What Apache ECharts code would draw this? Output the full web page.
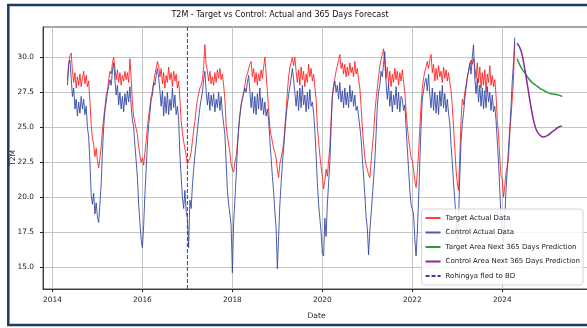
<!DOCTYPE html>
<html><head><meta charset="utf-8">
<script src="https://cdn.jsdelivr.net/npm/echarts@6/dist/echarts.min.js"></script>
<style>html,body{margin:0;padding:0;background:#fff;overflow:hidden}#c{width:587px;height:328px}</style>
</head><body><div id="c"></div>
<script>
// Values every ~10 days (36 steps per year).
// 2014 starts at step 12 (early May); 2024 ends at step 10 (mid April).
const target2014 = [28.4,29.6,30.1,30.3,29.0,28.2,28.9,27.8,28.6,28.0,28.8,27.9,28.5,29.0,28.1,28.7,27.9,28.3,26.8,25.2,24.2,23.8,22.9,23.5];
const control2014 = [28.0,29.5,29.8,28.5,27.2,27.8,26.3,27.0,25.8,26.8,26.0,27.2,26.3,27.0,25.9,26.5,25.0,24.3,22.5,20.2,19.5,20.3,18.8,19.6];
const target2015 = [22.6,22.1,22.8,23.6,24.8,25.7,26.4,27.3,27.6,28.4,29.0,28.8,29.6,30.0,29.2,28.4,29.1,28.2,28.9,28.0,28.7,28.3,29.0,28.4,28.9,28.2,29.9,28.5,26.8,25.8,25.3,24.9,24.5,23.6,23.0,22.5];
const control2015 = [18.6,18.2,19.5,21.0,23.2,25.0,26.2,26.8,27.5,27.9,28.4,28.0,29.0,29.6,28.4,27.3,28.0,26.6,27.5,26.3,27.2,26.1,27.4,26.6,27.6,26.8,27.9,26.5,25.5,25.0,23.7,22.6,21.4,19.5,18.2,17.0];
const target2016 = [22.8,22.3,23.2,24.0,25.0,25.8,26.5,27.2,27.6,28.2,28.8,29.2,29.7,29.4,28.6,29.2,28.1,28.9,27.8,28.7,28.2,29.3,28.4,28.9,27.9,29.0,28.3,28.8,27.8,28.3,27.0,25.5,24.6,24.0,23.5,23.0];
const control2016 = [16.4,18.0,20.2,22.0,23.8,25.2,26.0,27.0,27.3,28.2,28.0,28.7,29.2,28.5,27.6,26.5,27.6,25.8,27.2,26.0,27.5,25.9,27.0,26.2,27.8,26.4,27.3,25.9,26.5,25.6,23.0,21.5,20.0,19.2,20.5,19.0];
const target2017 = [22.4,22.3,22.8,23.2,24.0,24.8,25.4,26.3,27.0,27.4,27.8,28.0,28.4,29.3,30.9,29.5,29.0,28.3,29.0,28.1,28.6,28.0,28.9,28.2,29.1,28.5,29.2,28.4,28.8,28.0,27.0,25.2,24.3,23.8,23.2,22.4];
const control2017 = [18.5,16.4,19.8,19.2,20.8,22.0,23.0,23.8,24.8,25.6,26.4,27.0,27.5,28.4,29.0,27.6,26.6,27.5,26.2,27.3,26.5,27.4,26.1,27.0,26.4,27.5,26.2,27.2,26.0,26.0,24.5,22.5,20.5,19.5,18.8,18.0];
const target2018 = [22.0,21.8,22.5,22.9,23.8,24.8,25.9,26.6,27.1,27.5,28.0,28.6,28.8,29.2,29.5,29.7,28.6,29.2,28.2,28.9,28.0,28.8,28.3,29.1,28.5,29.3,30.0,28.8,27.6,26.2,25.0,24.4,24.0,23.5,23.2,22.8];
const control2018 = [14.6,18.2,19.8,21.5,23.5,25.0,25.8,26.6,27.0,27.4,27.8,27.5,28.2,28.7,27.6,26.4,27.5,26.0,27.2,25.9,27.4,26.3,27.8,26.2,27.1,25.9,26.8,25.8,26.3,25.5,24.1,22.8,21.5,20.4,19.0,17.8];
const target2019 = [22.0,21.4,22.4,22.8,23.3,23.8,25.0,26.2,27.5,28.6,29.3,29.6,30.0,29.4,30.0,29.0,28.2,29.1,28.0,29.3,28.4,29.0,27.9,28.8,28.2,29.5,28.6,29.2,28.3,28.8,27.9,27.0,25.0,24.0,23.0,22.2];
const control2019 = [14.9,17.2,19.5,21.0,22.4,23.5,24.7,25.8,26.6,27.3,27.9,28.5,29.2,28.4,27.5,26.5,27.6,26.2,27.8,26.4,28.0,26.6,27.3,26.1,27.5,26.3,27.7,26.5,26.8,26.0,24.8,23.0,21.0,19.5,18.5,17.5];
const target2020 = [21.5,20.6,21.2,22.0,21.5,22.6,23.7,25.5,27.3,28.0,28.5,29.0,29.4,29.8,30.2,29.2,29.6,28.8,29.5,28.6,29.3,28.7,29.6,28.9,29.3,28.6,29.7,28.8,29.2,28.4,27.8,26.5,25.0,23.8,22.8,22.3];
const control2020 = [16.0,15.8,18.5,17.2,19.5,21.0,22.5,25.0,27.2,27.8,28.3,27.5,28.0,27.0,28.2,26.8,27.6,26.4,27.8,26.6,27.5,26.4,28.0,26.8,27.6,26.5,27.3,26.2,26.5,25.8,25.0,24.2,22.8,21.5,20.2,18.6];
const target2021 = [22.0,21.6,21.4,22.5,23.6,24.5,26.0,27.0,27.8,28.6,29.4,29.8,30.2,30.6,29.5,28.5,29.3,28.1,29.0,27.9,28.8,28.2,29.2,28.4,29.0,28.0,28.9,28.3,29.1,28.2,27.5,26.2,25.0,24.2,23.5,22.8];
const control2021 = [17.8,15.9,17.6,18.8,20.0,21.3,22.6,24.5,26.5,27.5,28.0,29.0,28.6,29.5,30.4,28.2,27.0,28.1,26.5,27.6,26.1,27.3,26.6,27.9,26.3,27.5,26.1,27.2,27.0,26.2,26.6,25.0,23.5,22.0,20.5,19.5];
const target2022 = [22.6,22.0,21.2,20.7,21.8,23.2,24.9,26.6,27.8,28.5,29.0,29.3,29.7,29.2,29.8,30.2,28.9,29.5,28.3,29.2,28.4,29.4,28.6,29.0,28.2,29.3,28.5,29.1,28.3,28.9,28.2,27.6,26.5,25.0,23.5,22.0];
const control2022 = [19.5,18.8,17.0,15.8,17.5,19.8,22.5,25.0,27.0,27.6,28.2,28.5,27.6,28.8,27.3,26.4,27.8,26.2,27.5,26.0,27.3,25.9,27.6,26.5,28.0,26.4,27.4,26.1,27.0,26.0,25.3,23.7,22.5,21.0,19.8,18.5];
const target2023 = [21.0,20.5,23.0,25.5,27.0,26.6,27.5,28.0,28.6,29.0,29.4,29.8,29.5,29.9,29.3,28.5,29.6,28.2,29.3,27.8,28.9,28.0,29.1,27.5,28.8,28.2,29.4,28.0,28.7,27.9,28.4,27.3,25.5,24.5,22.8,21.5];
const control2023 = [17.0,18.5,21.5,24.0,25.2,26.0,27.0,27.8,28.5,29.0,29.6,28.8,30.0,30.9,28.5,27.4,28.5,26.8,28.0,26.5,27.8,26.3,27.6,26.4,27.9,26.8,27.5,26.2,27.3,26.1,26.5,25.5,24.0,22.5,20.5,18.5];
const target2024 = [21.3,20.0,20.8,21.8,22.2,22.8,24.5,25.8,27.0,28.5,31.1];
const control2024 = [18.0,16.8,18.5,20.5,22.0,23.5,24.9,26.5,28.3,29.6,31.4];

// 365-day forecasts, monthly from 2024.33
const forecastStart = 2024.33;
const targetForecast = [29.9,29.3,28.9,28.5,28.2,28.0,27.8,27.65,27.5,27.4,27.35,27.3,27.2];
const controlForecast = [31.0,30.5,29.2,27.6,26.0,24.9,24.45,24.3,24.4,24.6,24.8,25.0,25.1];

const eventYear = 2017.0;
const xTicks = [2014,2016,2018,2020,2022,2024];
const yTicks = [15,17.5,20,22.5,25,27.5,30];
const xMin = 2013.79, xMax = 2025.95, yMin = 13.45, yMax = 32.16;

const targetYears = [[2014,12,target2014],[2015,0,target2015],[2016,0,target2016],[2017,0,target2017],[2018,0,target2018],[2019,0,target2019],[2020,0,target2020],[2021,0,target2021],[2022,0,target2022],[2023,0,target2023],[2024,0,target2024]];
const controlYears = [[2014,12,control2014],[2015,0,control2015],[2016,0,control2016],[2017,0,control2017],[2018,0,control2018],[2019,0,control2019],[2020,0,control2020],[2021,0,control2021],[2022,0,control2022],[2023,0,control2023],[2024,0,control2024]];

function build(list){const out=[];list.forEach(([y,s,arr])=>arr.forEach((v,j)=>out.push([y+(s+j)/36,v])));return out;}
const fc = arr => arr.map((v,k)=>[forecastStart+k/12,v]);

const FONT = "'DejaVu Sans',sans-serif";
const chart = echarts.init(document.getElementById('c'), null, {renderer:'canvas'});
chart.setOption({
  animation:false,
  backgroundColor:'#fff',
  graphic:[
    {type:'rect', shape:{x:8.3,y:5,width:620,height:320}, style:{fill:'none',stroke:'#1f3864',lineWidth:2.5}, z:100},
    {type:'text', x:280, y:15, style:{text:'T2M - Target vs Control: Actual and 365 Days Forecast', textAlign:'center', textVerticalAlign:'middle', font:"8px "+FONT, fill:'#111'}}
  ],
  grid:{left:43, right:-3, top:27, bottom:39, show:true, borderColor:'#222', borderWidth:0.8, outerBoundsMode:'none', containLabel:false},
  xAxis:{type:'value', min:xMin, max:xMax, name:'Date', nameLocation:'middle', nameGap:23, nameMoveOverlap:false,
    nameTextStyle:{fontSize:7.6, fontFamily:FONT, color:'#222'},
    axisLine:{show:true, lineStyle:{color:'#222', width:0.8}},
    axisTick:{show:true, length:3, customValues:xTicks, lineStyle:{color:'#222'}},
    axisLabel:{customValues:xTicks, fontSize:7.4, fontFamily:FONT, color:'#222', margin:8, formatter:v=>String(Math.round(v))},
    splitLine:{show:true, lineStyle:{color:'#c4c4c4', width:1}}},
  yAxis:{type:'value', min:yMin, max:yMax, name:'T2M', nameLocation:'middle', nameGap:25.5, nameRotate:90, nameMoveOverlap:false,
    nameTextStyle:{fontSize:7.6, fontFamily:FONT, color:'#222'},
    axisLine:{show:true, lineStyle:{color:'#222', width:0.8}},
    axisTick:{show:true, length:3, customValues:yTicks, lineStyle:{color:'#222'}},
    axisLabel:{customValues:yTicks, fontSize:7.4, fontFamily:FONT, color:'#222', margin:9, formatter:v=>v.toFixed(1)},
    splitLine:{show:true, lineStyle:{color:'#c4c4c4', width:1}}},
  legend:{orient:'vertical', right:4, top:209, itemWidth:15, itemHeight:8, itemGap:4.5,
    padding:[4,3,4,3], backgroundColor:'rgba(255,255,255,0.85)', borderColor:'#d4d4d4', borderWidth:1, borderRadius:3,
    itemStyle:{opacity:0},
    textStyle:{fontSize:7, lineHeight:10, fontFamily:FONT, color:'#222'},
    data:['Target Actual Data','Control Actual Data','Target Area Next 365 Days Prediction','Control Area Next 365 Days Prediction','Rohingya fled to BD']},
  series:[
    {name:'Target Actual Data', type:'line', data:build(targetYears), showSymbol:false, symbol:'none',
      lineStyle:{color:'#ff1a1a', width:1, opacity:0.85}, itemStyle:{color:'#ff1a1a'}, z:2},
    {name:'Control Actual Data', type:'line', data:build(controlYears), showSymbol:false, symbol:'none',
      lineStyle:{color:'#3246a5', width:1, opacity:0.88}, itemStyle:{color:'#3246a5'}, z:3},
    {name:'Target Area Next 365 Days Prediction', type:'line', data:fc(targetForecast), smooth:true, showSymbol:false, symbol:'none',
      lineStyle:{color:'#2a9a3a', width:1.5}, itemStyle:{color:'#2a9a3a'}, z:4},
    {name:'Control Area Next 365 Days Prediction', type:'line', data:fc(controlForecast), smooth:true, showSymbol:false, symbol:'none',
      lineStyle:{color:'#8a2a96', width:1.5}, itemStyle:{color:'#8a2a96'}, z:4},
    {name:'Rohingya fled to BD', type:'line', data:[[eventYear,yMin],[eventYear,yMax]], showSymbol:false, symbol:'none',
      lineStyle:{color:'#4a3a8f', width:1, type:[4,2]}, itemStyle:{color:'#4a3a8f'}, z:5}
  ]
});
</script></body></html>
